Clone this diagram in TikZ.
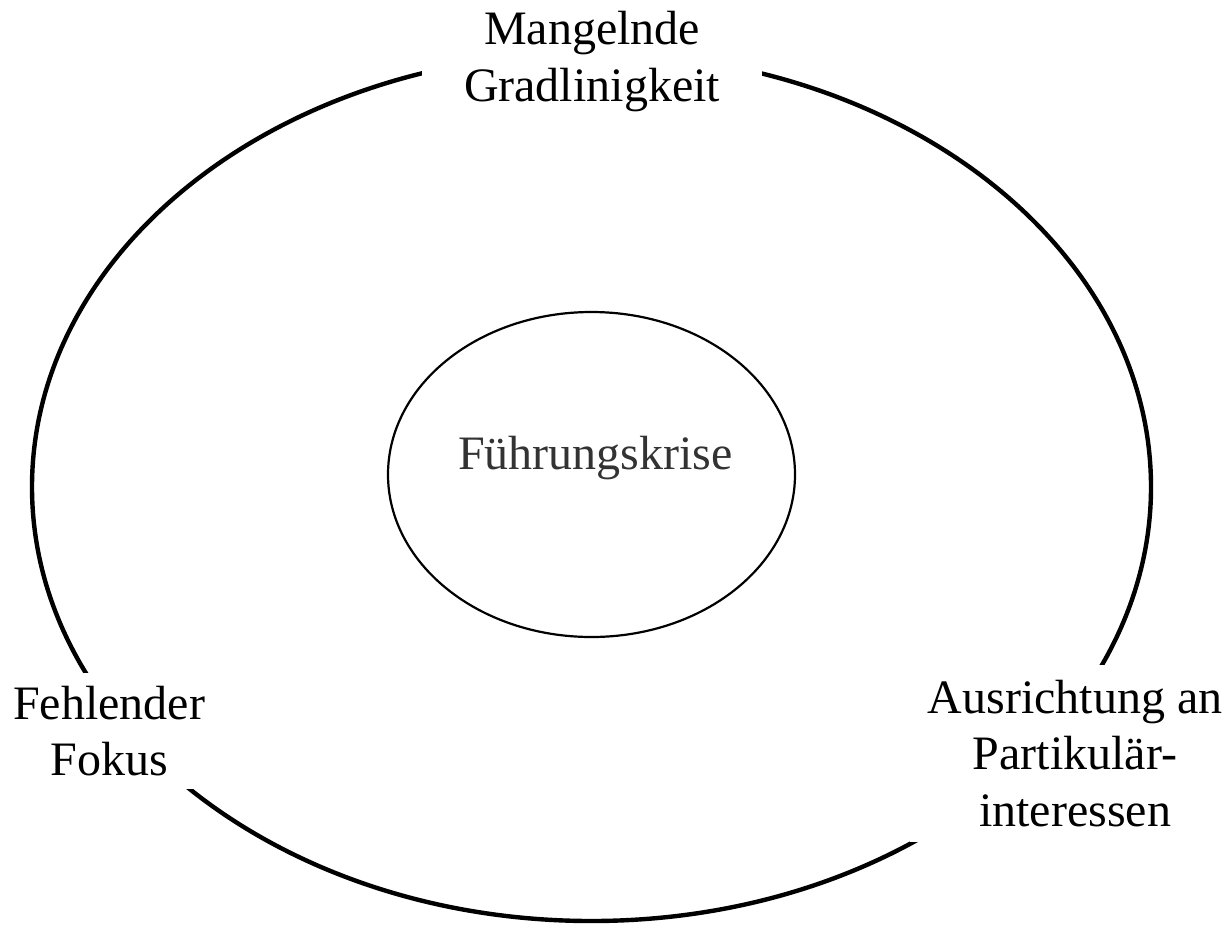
\documentclass[tikz,border=0pt]{standalone}
\usepackage{fontspec}
\setmainfont{Liberation Serif}
\usetikzlibrary{shapes.geometric}

\newcommand{\causefont}{\fontsize{48}{56.5}\selectfont}

\begin{document}
\begin{tikzpicture}[x=1pt, y=-1pt,
    ring/.style={draw, ellipse, inner sep=0pt},
    cause/.style={fill=white, align=center, font=\causefont}]
    \useasboundingbox (0,0) rectangle (1230,927);

    \node (outer) [ring, line width=4.4pt, minimum width=1119pt, minimum height=868pt] at (591.5,487) {};
    \node (krise) [ring, line width=2.2pt, minimum width=407pt, minimum height=325pt] at (591.5,474.5) {};
    \node (krisetext) [font=\causefont, text=black!80] at (595.5,458.5) {Führungskrise};

    \node (gerade) [cause, inner xsep=42.5pt, inner ysep=10pt] at (592,61.5) {Mangelnde\\Gradlinigkeit};
    \node (fokus) [cause, inner xsep=13pt, inner ysep=13pt] at (109,731) {Fehlender\\Fokus};
    \node (partikel) [cause, inner xsep=18pt, inner ysep=15.5pt] at (1075,753.5) {Ausrichtung an\\Partikulär-\\interessen};
\end{tikzpicture}
\end{document}
